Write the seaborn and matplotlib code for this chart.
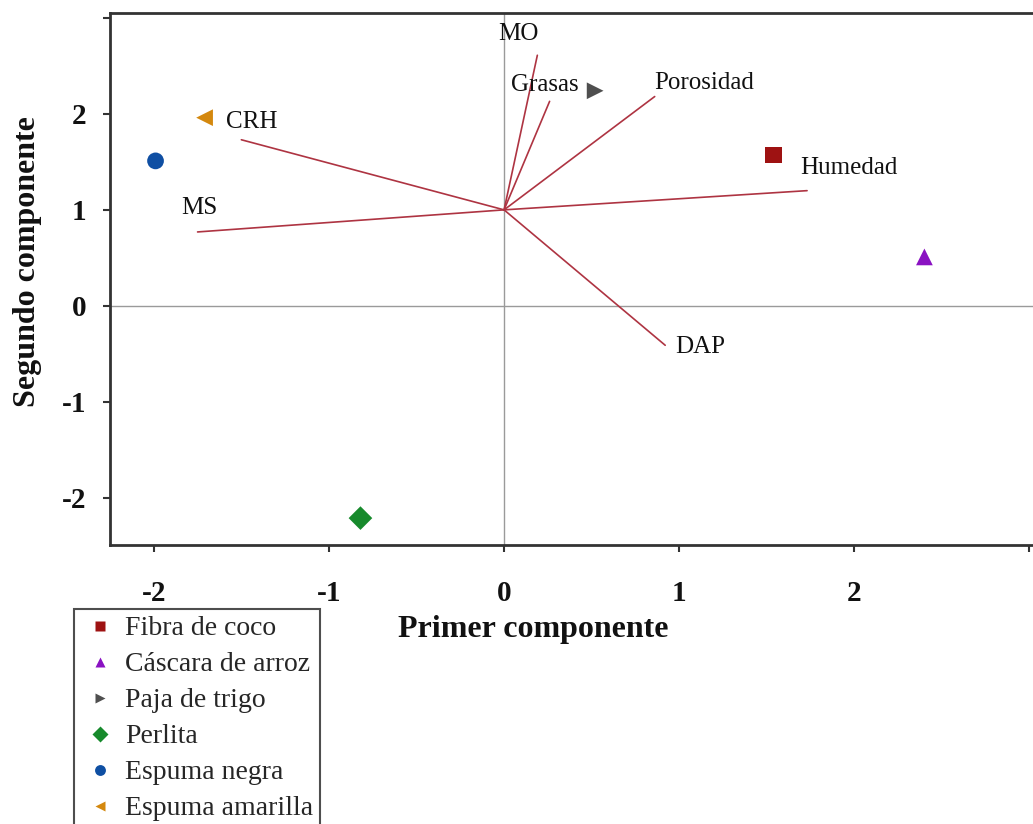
import numpy as np
import pandas as pd
import matplotlib
matplotlib.use("Agg")
import matplotlib.pyplot as plt
import seaborn as sns

# ---- data ----
samples = ["Fibra de coco", "Cáscara de arroz", "Paja de trigo", "Perlita",
           "Espuma negra", "Espuma amarilla"]
pc1 = [1.54, 2.40, 0.52, -0.82, -1.99, -1.71]
pc2 = [1.57, 0.51, 2.24, -2.21, 1.51, 1.96]

variables = ["MO", "Grasas", "Porosidad", "Humedad", "DAP", "CRH", "MS"]
vec_x = [0.19, 0.26, 0.86, 1.73, 0.92, -1.50, -1.75]
vec_y = [2.61, 2.13, 2.18, 1.20, -0.41, 1.73, 0.77]
origin_x = 0.0
origin_y = 1.0
label_x = [0.08, 0.23, 1.14, 1.97, 1.12, -1.44, -1.74]
label_y = [2.83, 2.30, 2.32, 1.44, -0.43, 1.91, 1.02]

x_ticks = [-2, -1, 0, 1, 2, 3]
x_ticklabels = ["-2", "-1", "0", "1", "2", ""]
y_ticks = [-2, -1, 0, 1, 2, 3]
y_ticklabels = ["-2", "-1", "0", "1", "2", ""]

colors = {"Fibra de coco": "#9E1212", "Cáscara de arroz": "#8A12C2",
          "Paja de trigo": "#4F4F4F", "Perlita": "#178A2C",
          "Espuma negra": "#0F4FA3", "Espuma amarilla": "#D4880E"}
markers = {"Fibra de coco": "s", "Cáscara de arroz": "^",
           "Paja de trigo": ">", "Perlita": "D",
           "Espuma negra": "o", "Espuma amarilla": "<"}

df = pd.DataFrame({"pc1": pc1, "pc2": pc2, "Muestra": samples})

sns.set_theme(style="white")
plt.rcParams["font.family"] = ["Liberation Serif", "DejaVu Serif"]
plt.rcParams["axes.unicode_minus"] = False

fig = plt.figure(figsize=(10.33, 8.24), dpi=100)
ax = fig.add_axes([110 / 1033, 1 - 545 / 824, 1 - 110 / 1033, (545 - 13) / 824])

ax.axhline(0, color="#9a9a9a", lw=1.0, zorder=1)
ax.axvline(0, color="#9a9a9a", lw=1.0, zorder=1)

vec_color = "#AE3442"
for name, vx, vy, lx, ly in zip(variables, vec_x, vec_y, label_x, label_y):
    ax.plot([origin_x, vx], [origin_y, vy], color=vec_color, lw=1.2, zorder=2)
    ax.text(lx, ly, name, fontsize=18, ha="center", va="center", color="#111111",
            zorder=4)

sns.scatterplot(data=df, x="pc1", y="pc2", hue="Muestra", style="Muestra",
                palette=colors, markers=markers, s=145, edgecolor="none",
                hue_order=samples, style_order=samples, ax=ax, zorder=3,
                legend=True)

handles, labels = ax.get_legend_handles_labels()
ax.get_legend().remove()

ax.set_xlim(-2.25, 3.02)
ax.set_ylim(-2.49, 3.05)
ax.set_xticks(x_ticks)
ax.set_xticklabels(x_ticklabels)
ax.set_yticks(y_ticks)
ax.set_yticklabels(y_ticklabels)
ax.tick_params(axis="both", which="major", direction="out", length=5, width=1.5,
               color="#333333", labelsize=21, labelcolor="#111111")
ax.tick_params(axis="x", pad=20)
ax.tick_params(axis="y", pad=12)
for lab in ax.get_xticklabels() + ax.get_yticklabels():
    lab.set_fontweight("bold")
ax.tick_params(left=True, bottom=True)

for side in ["left", "bottom", "top"]:
    ax.spines[side].set_color("#333333")
    ax.spines[side].set_linewidth(2.0)
ax.spines["right"].set_visible(False)

ax.set_xlabel("")
ax.set_ylabel("")
fig.text(533 / 1033, 1 - 629 / 824, "Primer componente", fontsize=23,
         fontweight="bold", ha="center", va="center", color="#111111")
fig.text(28 / 1033, 1 - 262 / 824, "Segundo componente", fontsize=23,
         fontweight="bold", ha="center", va="center", rotation=90, color="#111111")

leg = fig.legend(handles, labels, loc="upper left",
                 bbox_to_anchor=(74 / 1033, 1 - 609 / 824),
                 fontsize=20, frameon=True, fancybox=False, markerscale=0.65,
                 labelspacing=0.38, handlelength=1.4, handletextpad=0.2,
                 borderpad=0.25, borderaxespad=0.0)
leg.get_frame().set_edgecolor("#222222")
leg.get_frame().set_linewidth(1.5)

fig.savefig("out.png", dpi=100)
